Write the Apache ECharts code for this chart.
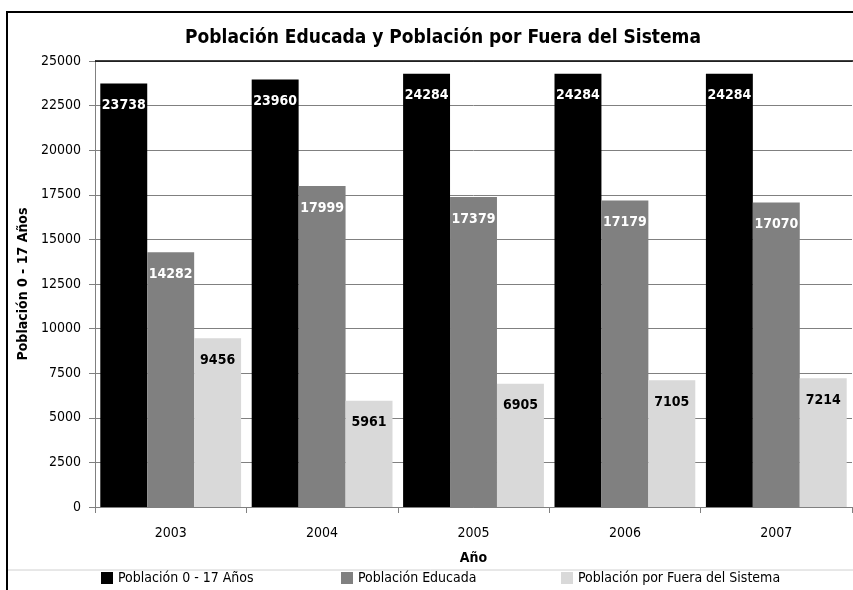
<!DOCTYPE html>
<html>
<head>
<meta charset="utf-8">
<script src="https://cdn.jsdelivr.net/npm/echarts@6/dist/echarts.min.js"></script>
<style>
  html, body { margin: 0; padding: 0; background: #fff; }
  #chart { width: 853px; height: 590px; }
</style>
</head>
<body>
<div id="chart"></div>
<script>
// datos del gráfico
const years = ['2003', '2004', '2005', '2006', '2007'];
const poblacionTotal = [23738, 23960, 24284, 24284, 24284];
const poblacionEducada = [14282, 17999, 17379, 17179, 17070];
const poblacionFuera = [9456, 5961, 6905, 7105, 7214];
const seriesNames = ['Población 0 - 17 Años', 'Población Educada', 'Población por Fuera del Sistema'];

const FONT = '"DejaVu Sans Condensed", "Liberation Sans Narrow", sans-serif';

const chart = echarts.init(document.getElementById('chart'));

function labelStyle(color) {
    return {
        show: true,
        position: 'insideTop',
        distance: 15,
        color: color,
        fontFamily: FONT,
        fontWeight: 'bold',
        fontSize: 14
    };
}

// una leyenda por serie para fijar la posición de cada una
function legendItem(name, left) {
    return {
        data: [name],
        bottom: 0,
        left: left,
        itemWidth: 12,
        itemHeight: 12,
        icon: 'rect',
        textStyle: { fontFamily: FONT, fontSize: 14, color: '#000' }
    };
}

const option = {
    animation: false,
    title: {
        text: 'Población Educada y Población por Fuera del Sistema',
        left: 438,
        textAlign: 'center',
        top: 24,
        textStyle: { fontFamily: FONT, fontWeight: 'bold', fontSize: 19, color: '#000' }
    },
    // marco exterior, línea del cuadro de leyenda y borde superior del área
    graphic: [
        { type: 'rect', shape: { x: 7, y: 12, width: 870, height: 620 },
          style: { fill: 'none', stroke: '#000', lineWidth: 2 }, z: 10 },
        { type: 'line', shape: { x1: 8, y1: 570, x2: 853, y2: 570 },
          style: { stroke: '#d0d0d0', lineWidth: 1 } },
        { type: 'line', shape: { x1: 95, y1: 61, x2: 853, y2: 61 },
          style: { stroke: '#000', lineWidth: 1.5 }, z: 5 }
    ],
    legend: [
        legendItem(seriesNames[0], 96),
        legendItem(seriesNames[1], 336),
        legendItem(seriesNames[2], 556)
    ],
    grid: {
        top: 61,
        left: 95,
        right: 1,
        bottom: 83
    },
    xAxis: {
        type: 'category',
        data: years,
        name: 'Año',
        nameLocation: 'middle',
        nameGap: 44,
        nameTextStyle: { fontFamily: FONT, fontWeight: 'bold', fontSize: 14, color: '#000' },
        axisLine: { lineStyle: { color: '#808080' } },
        axisTick: { show: true, length: 6, lineStyle: { color: '#808080' } },
        axisLabel: { fontFamily: FONT, fontSize: 14, color: '#000', margin: 19 }
    },
    yAxis: {
        type: 'value',
        min: 0,
        max: 25000,
        interval: 2500,
        name: 'Población 0 - 17 Años',
        nameLocation: 'middle',
        nameGap: 62,
        nameTextStyle: { fontFamily: FONT, fontWeight: 'bold', fontSize: 14, color: '#000' },
        axisLine: { show: true, lineStyle: { color: '#808080' } },
        axisTick: { show: true, length: 6, lineStyle: { color: '#808080' } },
        axisLabel: {
            fontFamily: FONT, fontSize: 14, color: '#000', margin: 14,
            formatter: function (v) { return String(v); }
        },
        splitLine: { lineStyle: { color: '#808080' } }
    },
    series: [{
        name: seriesNames[0],
        type: 'bar',
        data: poblacionTotal,
        barGap: '0%',
        barCategoryGap: '7%',
        itemStyle: { color: '#000000' },
        label: labelStyle('#ffffff')
    }, {
        name: seriesNames[1],
        type: 'bar',
        data: poblacionEducada,
        itemStyle: { color: '#808080' },
        label: labelStyle('#ffffff')
    }, {
        name: seriesNames[2],
        type: 'bar',
        data: poblacionFuera,
        itemStyle: { color: '#d9d9d9' },
        label: labelStyle('#000000')
    }]
};

chart.setOption(option);
</script>
</body>
</html>
